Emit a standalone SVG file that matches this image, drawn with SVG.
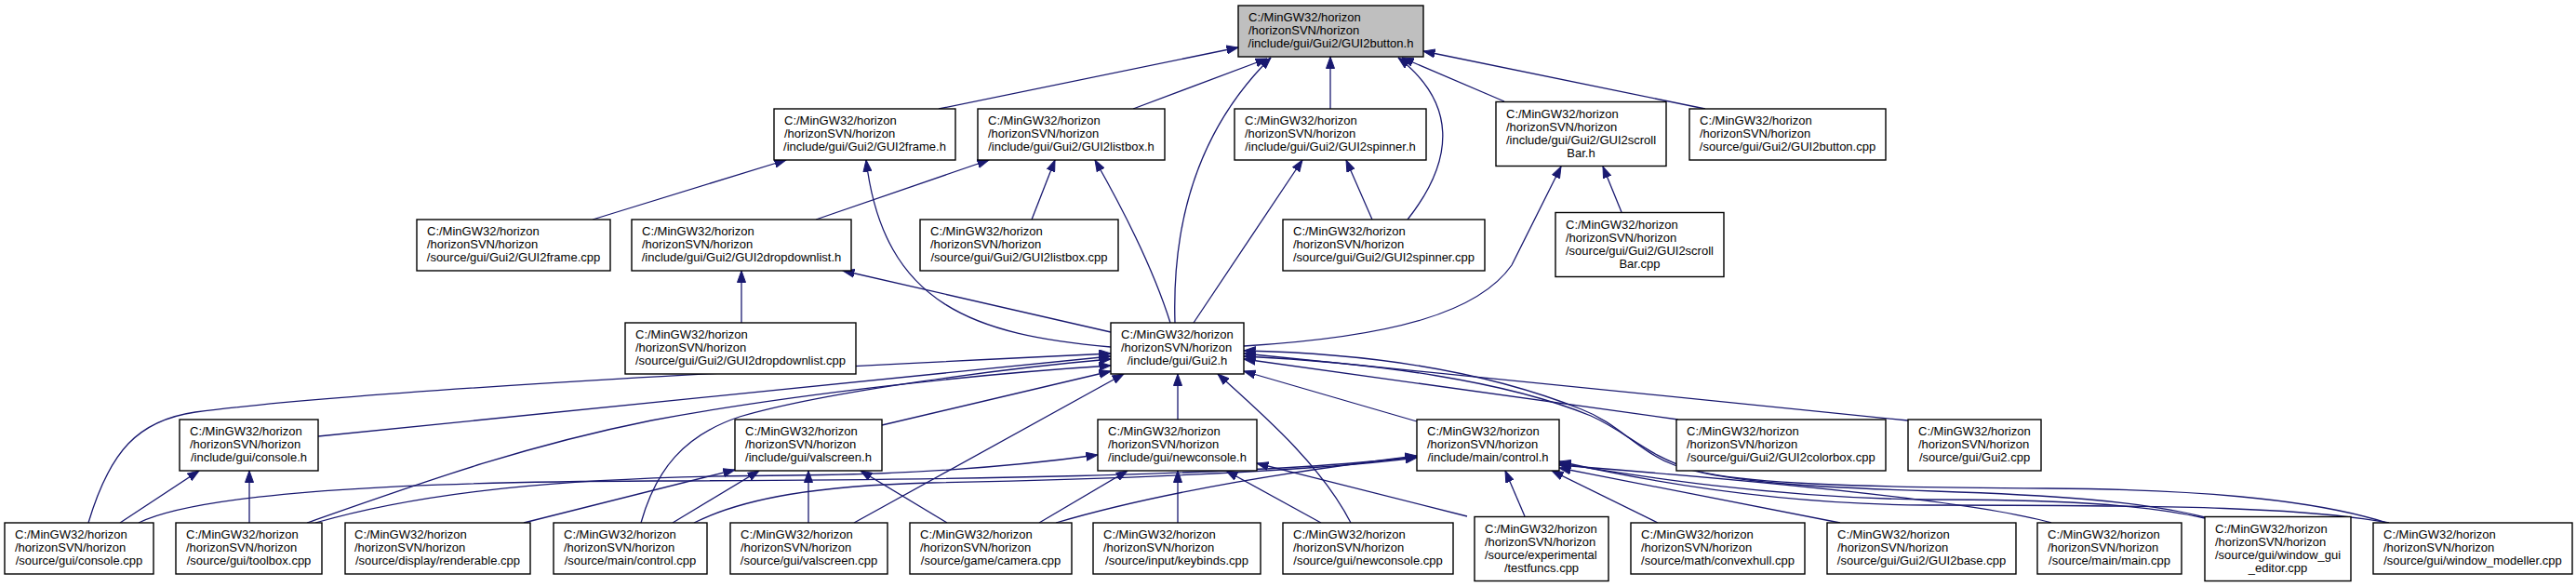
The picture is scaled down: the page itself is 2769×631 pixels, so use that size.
<svg xmlns="http://www.w3.org/2000/svg" width="2769" height="631" viewBox="0 0 2769 631">
<style>
.n rect{fill:#fff;stroke:#000;stroke-width:1.4}
.n.g rect{fill:#bfbfbf}
.n text{font-family:"Liberation Sans",Arial,sans-serif;font-size:13px;fill:#000}
.n text.c{text-anchor:middle}
#edges path{fill:none;stroke:#191970;stroke-width:1.3;marker-end:url(#ah)}
</style>
<defs>
<marker id="ah" viewBox="0 0 13 10" markerWidth="13" markerHeight="10" refX="12.5" refY="5" orient="auto" markerUnits="userSpaceOnUse">
<path d="M0,0.5 L12.5,5 L0,9.5 z" fill="#191970" stroke="#191970" stroke-width="1"/>
</marker>
</defs>
<rect width="2769" height="631" fill="#fff"/>
<g id="edges">
<path d="M1009,117 L1331,51"/>
<path d="M1218,117 L1362,63"/>
<path d="M1263,347 C1260,250 1282,145 1366,62"/>
<path d="M1430,117 L1430,61"/>
<path d="M1513,236 C1565,170 1565,110 1503,62"/>
<path d="M1617,109 L1507,62"/>
<path d="M1833,117 L1530,55"/>
<path d="M637,236 L845,172"/>
<path d="M1194,373 C1050,360 950,330 931,172"/>
<path d="M877,236 L1063,172"/>
<path d="M1109,236 L1134,172"/>
<path d="M1258,347 C1240,290 1210,230 1177,172"/>
<path d="M1283,347 L1400,172"/>
<path d="M1475,236 L1447,172"/>
<path d="M1337,372 C1500,362 1590,335 1625,285 L1678,179"/>
<path d="M1743,228 L1723,179"/>
<path d="M797,347 L797,291"/>
<path d="M1194,357 L906,291"/>
<path d="M95,562 C118,485 148,452 210,443 C400,418 900,394 1194,380"/>
<path d="M342,469 L1194,383"/>
<path d="M330,562 C450,520 560,480 700,452 C850,424 1050,402 1194,393"/>
<path d="M689,562 C705,505 735,468 795,448 C890,420 1090,395 1194,386"/>
<path d="M948,457 L1194,399"/>
<path d="M918,562 L1208,402"/>
<path d="M1266,451 L1266,402"/>
<path d="M1452,562 C1420,500 1360,448 1309,402"/>
<path d="M1523,453 L1337,399"/>
<path d="M1804,451 L1337,386"/>
<path d="M2051,452 L1337,380"/>
<path d="M2370,556 C2300,538 2200,532 2080,528 C1950,524 1850,518 1800,500 C1760,485 1740,455 1700,440 C1600,400 1480,380 1337,377"/>
<path d="M2566,562 C2480,535 2350,526 2200,525 C2000,524 1870,520 1820,505 C1770,490 1750,465 1710,447 C1620,410 1480,390 1337,383"/>
<path d="M149,562 C215,530 420,518 700,517 C1000,516 1350,512 1523,491"/>
<path d="M746,562 C800,535 880,522 1000,519 C1250,514 1420,505 1523,492"/>
<path d="M1135,562 C1250,528 1400,505 1523,490"/>
<path d="M1639,555 L1618,506"/>
<path d="M1782,562 L1668,506"/>
<path d="M1978,562 L1676,503"/>
<path d="M2205,562 C2120,538 1880,516 1676,500"/>
<path d="M2370,557 C2300,541 2200,537 2070,537 C1900,535 1750,510 1676,498"/>
<path d="M2568,562 C2480,546 2350,543 2070,543 C1900,542 1760,515 1676,496"/>
<path d="M339,562 C450,530 600,512 850,511 C1000,510 1100,500 1180,489"/>
<path d="M1117,562 L1212,506"/>
<path d="M1266,562 L1266,506"/>
<path d="M1420,562 L1318,506"/>
<path d="M1577,555 L1351,498"/>
<path d="M563,562 L790,505"/>
<path d="M723,562 L816,506"/>
<path d="M869,562 L869,506"/>
<path d="M1018,562 L925,506"/>
<path d="M129,562 L214,506"/>
<path d="M268,562 L268,506"/>
</g>
<g id="n_GUI2button_h" class="n g"><rect x="1331" y="6" width="199" height="55"/><text x="1342" y="23">C:/MinGW32/horizon</text><text x="1342" y="37">/horizonSVN/horizon</text><text class="c" x="1430.5" y="51">/include/gui/Gui2/GUI2button.h</text></g>
<g id="n_GUI2frame_h" class="n"><rect x="832" y="117" width="195" height="55"/><text x="843" y="134">C:/MinGW32/horizon</text><text x="843" y="148">/horizonSVN/horizon</text><text class="c" x="929.5" y="162">/include/gui/Gui2/GUI2frame.h</text></g>
<g id="n_GUI2listbox_h" class="n"><rect x="1051" y="117" width="201" height="55"/><text x="1062" y="134">C:/MinGW32/horizon</text><text x="1062" y="148">/horizonSVN/horizon</text><text class="c" x="1151.5" y="162">/include/gui/Gui2/GUI2listbox.h</text></g>
<g id="n_GUI2spinner_h" class="n"><rect x="1327" y="117" width="206" height="55"/><text x="1338" y="134">C:/MinGW32/horizon</text><text x="1338" y="148">/horizonSVN/horizon</text><text class="c" x="1430" y="162">/include/gui/Gui2/GUI2spinner.h</text></g>
<g id="n_GUI2scrollBar_h" class="n"><rect x="1608" y="109.5" width="183" height="69"/><text x="1619" y="126.5">C:/MinGW32/horizon</text><text x="1619" y="140.5">/horizonSVN/horizon</text><text x="1619" y="154.5">/include/gui/Gui2/GUI2scroll</text><text class="c" x="1699.5" y="168.5">Bar.h</text></g>
<g id="n_GUI2button_cpp" class="n"><rect x="1816" y="117" width="211" height="55"/><text x="1827" y="134">C:/MinGW32/horizon</text><text x="1827" y="148">/horizonSVN/horizon</text><text class="c" x="1921.5" y="162">/source/gui/Gui2/GUI2button.cpp</text></g>
<g id="n_GUI2frame_cpp" class="n"><rect x="448" y="236" width="208" height="55"/><text x="459" y="253">C:/MinGW32/horizon</text><text x="459" y="267">/horizonSVN/horizon</text><text class="c" x="552" y="281">/source/gui/Gui2/GUI2frame.cpp</text></g>
<g id="n_GUI2dropdownlist_h" class="n"><rect x="679" y="236" width="236" height="55"/><text x="690" y="253">C:/MinGW32/horizon</text><text x="690" y="267">/horizonSVN/horizon</text><text class="c" x="797" y="281">/include/gui/Gui2/GUI2dropdownlist.h</text></g>
<g id="n_GUI2listbox_cpp" class="n"><rect x="989" y="236" width="213" height="55"/><text x="1000" y="253">C:/MinGW32/horizon</text><text x="1000" y="267">/horizonSVN/horizon</text><text class="c" x="1095.5" y="281">/source/gui/Gui2/GUI2listbox.cpp</text></g>
<g id="n_GUI2spinner_cpp" class="n"><rect x="1379" y="236" width="217" height="55"/><text x="1390" y="253">C:/MinGW32/horizon</text><text x="1390" y="267">/horizonSVN/horizon</text><text class="c" x="1487.5" y="281">/source/gui/Gui2/GUI2spinner.cpp</text></g>
<g id="n_GUI2scrollBar_cpp" class="n"><rect x="1672" y="228.5" width="181" height="69"/><text x="1683" y="245.5">C:/MinGW32/horizon</text><text x="1683" y="259.5">/horizonSVN/horizon</text><text x="1683" y="273.5">/source/gui/Gui2/GUI2scroll</text><text class="c" x="1762.5" y="287.5">Bar.cpp</text></g>
<g id="n_GUI2dropdownlist_cpp" class="n"><rect x="672" y="347" width="248" height="55"/><text x="683" y="364">C:/MinGW32/horizon</text><text x="683" y="378">/horizonSVN/horizon</text><text class="c" x="796" y="392">/source/gui/Gui2/GUI2dropdownlist.cpp</text></g>
<g id="n_Gui2_h" class="n"><rect x="1194" y="347" width="143" height="55"/><text x="1205" y="364">C:/MinGW32/horizon</text><text x="1205" y="378">/horizonSVN/horizon</text><text class="c" x="1265.5" y="392">/include/gui/Gui2.h</text></g>
<g id="n_console_h" class="n"><rect x="193" y="451" width="149" height="55"/><text x="204" y="468">C:/MinGW32/horizon</text><text x="204" y="482">/horizonSVN/horizon</text><text class="c" x="267.5" y="496">/include/gui/console.h</text></g>
<g id="n_valscreen_h" class="n"><rect x="790" y="451" width="158" height="55"/><text x="801" y="468">C:/MinGW32/horizon</text><text x="801" y="482">/horizonSVN/horizon</text><text class="c" x="869" y="496">/include/gui/valscreen.h</text></g>
<g id="n_newconsole_h" class="n"><rect x="1180" y="451" width="171" height="55"/><text x="1191" y="468">C:/MinGW32/horizon</text><text x="1191" y="482">/horizonSVN/horizon</text><text class="c" x="1265.5" y="496">/include/gui/newconsole.h</text></g>
<g id="n_control_h" class="n"><rect x="1523" y="451" width="153" height="55"/><text x="1534" y="468">C:/MinGW32/horizon</text><text x="1534" y="482">/horizonSVN/horizon</text><text class="c" x="1599.5" y="496">/include/main/control.h</text></g>
<g id="n_GUI2colorbox_cpp" class="n"><rect x="1802" y="451" width="225" height="55"/><text x="1813" y="468">C:/MinGW32/horizon</text><text x="1813" y="482">/horizonSVN/horizon</text><text class="c" x="1914.5" y="496">/source/gui/Gui2/GUI2colorbox.cpp</text></g>
<g id="n_Gui2_cpp" class="n"><rect x="2051" y="451" width="143" height="55"/><text x="2062" y="468">C:/MinGW32/horizon</text><text x="2062" y="482">/horizonSVN/horizon</text><text class="c" x="2122.5" y="496">/source/gui/Gui2.cpp</text></g>
<g id="n_console_cpp" class="n"><rect x="5" y="562" width="160" height="55"/><text x="16" y="579">C:/MinGW32/horizon</text><text x="16" y="593">/horizonSVN/horizon</text><text class="c" x="85" y="607">/source/gui/console.cpp</text></g>
<g id="n_toolbox_cpp" class="n"><rect x="189" y="562" width="157" height="55"/><text x="200" y="579">C:/MinGW32/horizon</text><text x="200" y="593">/horizonSVN/horizon</text><text class="c" x="267.5" y="607">/source/gui/toolbox.cpp</text></g>
<g id="n_renderable_cpp" class="n"><rect x="371" y="562" width="199" height="55"/><text x="381" y="579">C:/MinGW32/horizon</text><text x="381" y="593">/horizonSVN/horizon</text><text class="c" x="470.5" y="607">/source/display/renderable.cpp</text></g>
<g id="n_control_cpp" class="n"><rect x="595" y="562" width="165" height="55"/><text x="606" y="579">C:/MinGW32/horizon</text><text x="606" y="593">/horizonSVN/horizon</text><text class="c" x="677.5" y="607">/source/main/control.cpp</text></g>
<g id="n_valscreen_cpp" class="n"><rect x="785" y="562" width="169" height="55"/><text x="796" y="579">C:/MinGW32/horizon</text><text x="796" y="593">/horizonSVN/horizon</text><text class="c" x="869.5" y="607">/source/gui/valscreen.cpp</text></g>
<g id="n_camera_cpp" class="n"><rect x="978" y="562" width="174" height="55"/><text x="989" y="579">C:/MinGW32/horizon</text><text x="989" y="593">/horizonSVN/horizon</text><text class="c" x="1065" y="607">/source/game/camera.cpp</text></g>
<g id="n_keybinds_cpp" class="n"><rect x="1175" y="562" width="180" height="55"/><text x="1186" y="579">C:/MinGW32/horizon</text><text x="1186" y="593">/horizonSVN/horizon</text><text class="c" x="1265" y="607">/source/input/keybinds.cpp</text></g>
<g id="n_newconsole_cpp" class="n"><rect x="1379" y="562" width="183" height="55"/><text x="1390" y="579">C:/MinGW32/horizon</text><text x="1390" y="593">/horizonSVN/horizon</text><text class="c" x="1470.5" y="607">/source/gui/newconsole.cpp</text></g>
<g id="n_testfuncs_cpp" class="n"><rect x="1585" y="555.5" width="144" height="69"/><text x="1596" y="572.5">C:/MinGW32/horizon</text><text x="1596" y="586.5">/horizonSVN/horizon</text><text x="1596" y="600.5">/source/experimental</text><text class="c" x="1657" y="614.5">/testfuncs.cpp</text></g>
<g id="n_convexhull_cpp" class="n"><rect x="1753" y="562" width="187" height="55"/><text x="1764" y="579">C:/MinGW32/horizon</text><text x="1764" y="593">/horizonSVN/horizon</text><text class="c" x="1846.5" y="607">/source/math/convexhull.cpp</text></g>
<g id="n_GUI2base_cpp" class="n"><rect x="1964" y="562" width="203" height="55"/><text x="1975" y="579">C:/MinGW32/horizon</text><text x="1975" y="593">/horizonSVN/horizon</text><text class="c" x="2065.5" y="607">/source/gui/Gui2/GUI2base.cpp</text></g>
<g id="n_main_cpp" class="n"><rect x="2190" y="562" width="155" height="55"/><text x="2201" y="579">C:/MinGW32/horizon</text><text x="2201" y="593">/horizonSVN/horizon</text><text class="c" x="2267.5" y="607">/source/main/main.cpp</text></g>
<g id="n_window_gui_editor_cpp" class="n"><rect x="2370" y="555.5" width="157" height="69"/><text x="2381" y="572.5">C:/MinGW32/horizon</text><text x="2381" y="586.5">/horizonSVN/horizon</text><text x="2381" y="600.5">/source/gui/window_gui</text><text class="c" x="2448.5" y="614.5">_editor.cpp</text></g>
<g id="n_window_modeller_cpp" class="n"><rect x="2551" y="562" width="214" height="55"/><text x="2562" y="579">C:/MinGW32/horizon</text><text x="2562" y="593">/horizonSVN/horizon</text><text class="c" x="2658" y="607">/source/gui/window_modeller.cpp</text></g>
</svg>
